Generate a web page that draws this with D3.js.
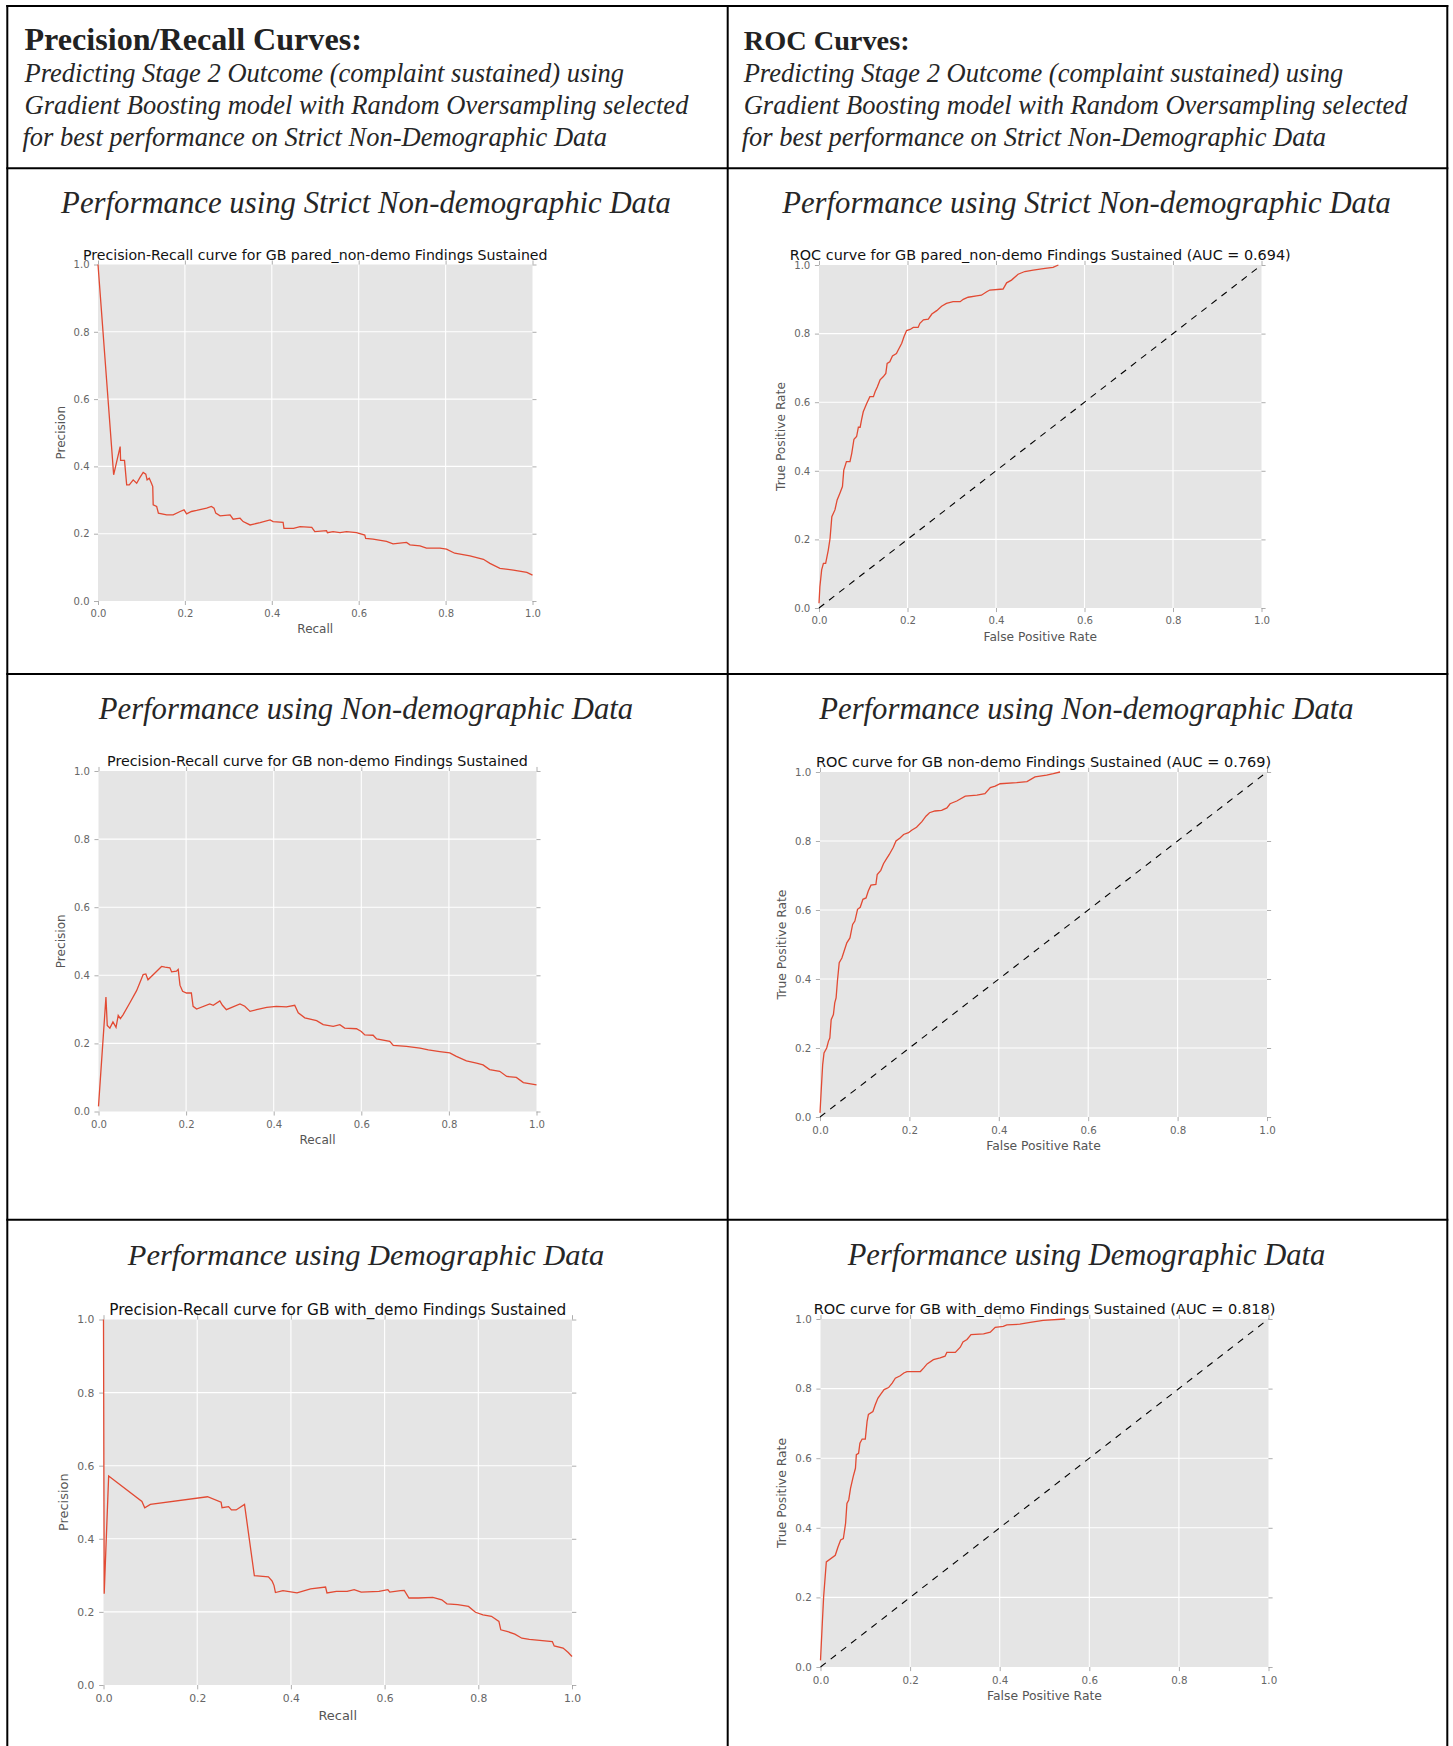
<!DOCTYPE html>
<html>
<head>
<meta charset="utf-8">
<script src="https://cdn.jsdelivr.net/npm/d3@7"></script>
<style>
  body { margin: 0; background: #fff; }
</style>
</head>
<body>
<svg id="chart"></svg>
<script>
const tickValues = [0, 0.2, 0.4, 0.6, 0.8, 1.0];
const diagonal = [0, 1];

// Precision/Recall, strict non-demographic
const prStrictRecall = [0, 0.036, 0.051, 0.052, 0.061, 0.066, 0.072, 0.081, 0.089, 0.097, 0.104, 0.110, 0.113, 0.118, 0.123, 0.126, 0.127, 0.135, 0.139, 0.158, 0.173, 0.189, 0.198, 0.204, 0.215, 0.227, 0.25, 0.261, 0.267, 0.271, 0.281, 0.304, 0.311, 0.327, 0.334, 0.35, 0.373, 0.396, 0.403, 0.426, 0.428, 0.45, 0.465, 0.492, 0.499, 0.526, 0.528, 0.541, 0.557, 0.572, 0.595, 0.614, 0.616, 0.633, 0.664, 0.679, 0.710, 0.718, 0.741, 0.756, 0.787, 0.802, 0.821, 0.856, 0.887, 0.902, 0.925, 0.956, 0.987, 1.0];
const prStrictPrecision = [1.0, 0.375, 0.459, 0.418, 0.418, 0.345, 0.345, 0.36, 0.35, 0.368, 0.382, 0.377, 0.36, 0.365, 0.35, 0.34, 0.286, 0.281, 0.261, 0.256, 0.256, 0.266, 0.271, 0.259, 0.266, 0.269, 0.276, 0.281, 0.276, 0.261, 0.253, 0.256, 0.243, 0.246, 0.236, 0.226, 0.233, 0.241, 0.236, 0.234, 0.216, 0.216, 0.221, 0.219, 0.206, 0.209, 0.203, 0.206, 0.203, 0.206, 0.203, 0.196, 0.186, 0.184, 0.177, 0.170, 0.174, 0.167, 0.164, 0.157, 0.157, 0.154, 0.142, 0.134, 0.124, 0.112, 0.097, 0.092, 0.085, 0.077];

// ROC, strict non-demographic
const rocStrictFpr = [0, 0.002, 0.006, 0.01, 0.015, 0.021, 0.025, 0.029, 0.036, 0.041, 0.047, 0.053, 0.056, 0.062, 0.07, 0.074, 0.079, 0.085, 0.089, 0.093, 0.096, 0.1, 0.108, 0.115, 0.123, 0.127, 0.132, 0.138, 0.145, 0.151, 0.154, 0.16, 0.166, 0.175, 0.179, 0.187, 0.192, 0.198, 0.206, 0.213, 0.224, 0.228, 0.236, 0.247, 0.255, 0.266, 0.277, 0.288, 0.303, 0.319, 0.326, 0.337, 0.356, 0.367, 0.379, 0.386, 0.416, 0.424, 0.435, 0.45, 0.465, 0.484, 0.511, 0.529, 0.541];
const rocStrictTpr = [0.014, 0.062, 0.111, 0.13, 0.13, 0.169, 0.203, 0.266, 0.286, 0.315, 0.334, 0.354, 0.402, 0.427, 0.427, 0.451, 0.492, 0.5, 0.527, 0.527, 0.548, 0.572, 0.597, 0.616, 0.616, 0.631, 0.645, 0.665, 0.674, 0.684, 0.713, 0.718, 0.735, 0.742, 0.752, 0.772, 0.791, 0.809, 0.812, 0.818, 0.818, 0.83, 0.84, 0.842, 0.857, 0.867, 0.88, 0.888, 0.893, 0.893, 0.9, 0.906, 0.91, 0.912, 0.922, 0.927, 0.93, 0.948, 0.956, 0.973, 0.981, 0.985, 0.99, 0.993, 1.0];

// Precision/Recall, non-demographic
const prNonDemoRecall = [0, 0.017, 0.02, 0.026, 0.033, 0.04, 0.045, 0.05, 0.056, 0.072, 0.087, 0.102, 0.108, 0.113, 0.144, 0.152, 0.163, 0.167, 0.178, 0.182, 0.186, 0.192, 0.201, 0.212, 0.216, 0.224, 0.254, 0.262, 0.277, 0.283, 0.292, 0.323, 0.334, 0.346, 0.361, 0.384, 0.406, 0.429, 0.448, 0.456, 0.471, 0.498, 0.513, 0.536, 0.551, 0.562, 0.589, 0.6, 0.608, 0.627, 0.635, 0.665, 0.673, 0.703, 0.734, 0.753, 0.779, 0.802, 0.817, 0.84, 0.863, 0.878, 0.893, 0.916, 0.932, 0.954, 0.97, 1.0];
const prNonDemoPrecision = [0.015, 0.336, 0.253, 0.245, 0.263, 0.247, 0.282, 0.273, 0.284, 0.32, 0.355, 0.402, 0.404, 0.387, 0.426, 0.424, 0.422, 0.41, 0.412, 0.417, 0.371, 0.353, 0.348, 0.348, 0.309, 0.301, 0.316, 0.312, 0.325, 0.312, 0.299, 0.316, 0.309, 0.294, 0.299, 0.306, 0.309, 0.307, 0.312, 0.29, 0.275, 0.267, 0.255, 0.25, 0.255, 0.245, 0.243, 0.235, 0.225, 0.224, 0.213, 0.206, 0.194, 0.191, 0.186, 0.181, 0.176, 0.172, 0.162, 0.149, 0.142, 0.137, 0.123, 0.118, 0.103, 0.1, 0.085, 0.078];

// ROC, non-demographic
const rocNonDemoFpr = [0, 0.003, 0.006, 0.009, 0.015, 0.019, 0.022, 0.025, 0.03, 0.033, 0.036, 0.039, 0.043, 0.049, 0.054, 0.06, 0.067, 0.073, 0.078, 0.084, 0.09, 0.096, 0.103, 0.108, 0.114, 0.125, 0.128, 0.136, 0.142, 0.149, 0.155, 0.164, 0.17, 0.179, 0.187, 0.198, 0.205, 0.216, 0.228, 0.237, 0.245, 0.257, 0.272, 0.284, 0.291, 0.306, 0.325, 0.351, 0.369, 0.381, 0.392, 0.403, 0.44, 0.463, 0.481, 0.507, 0.522, 0.537];
const rocNonDemoTpr = [0.012, 0.084, 0.152, 0.186, 0.2, 0.22, 0.229, 0.282, 0.297, 0.331, 0.345, 0.394, 0.447, 0.461, 0.481, 0.505, 0.519, 0.558, 0.568, 0.602, 0.608, 0.631, 0.635, 0.655, 0.672, 0.674, 0.703, 0.715, 0.734, 0.749, 0.761, 0.782, 0.8, 0.809, 0.819, 0.824, 0.831, 0.84, 0.856, 0.872, 0.882, 0.887, 0.889, 0.896, 0.908, 0.916, 0.93, 0.933, 0.937, 0.955, 0.959, 0.966, 0.969, 0.972, 0.986, 0.991, 0.995, 1.0];

// Precision/Recall, demographic
const prDemoRecall = [0, 0.0015, 0.011, 0.082, 0.088, 0.1, 0.222, 0.251, 0.253, 0.267, 0.273, 0.283, 0.301, 0.322, 0.352, 0.36, 0.364, 0.367, 0.383, 0.413, 0.442, 0.474, 0.477, 0.497, 0.52, 0.535, 0.55, 0.588, 0.607, 0.611, 0.634, 0.642, 0.652, 0.672, 0.703, 0.722, 0.733, 0.756, 0.779, 0.794, 0.81, 0.828, 0.844, 0.848, 0.863, 0.878, 0.893, 0.909, 0.931, 0.958, 0.962, 0.981, 0.992, 1.0];
const prDemoPrecision = [1.0, 0.25, 0.572, 0.502, 0.485, 0.494, 0.515, 0.5, 0.485, 0.488, 0.479, 0.479, 0.494, 0.299, 0.296, 0.284, 0.272, 0.253, 0.258, 0.252, 0.263, 0.268, 0.252, 0.256, 0.256, 0.261, 0.254, 0.256, 0.261, 0.254, 0.258, 0.259, 0.238, 0.238, 0.24, 0.233, 0.222, 0.22, 0.215, 0.199, 0.192, 0.188, 0.174, 0.151, 0.146, 0.139, 0.128, 0.125, 0.122, 0.119, 0.107, 0.101, 0.089, 0.078];

// ROC, demographic
const rocDemoFpr = [0, 0.004, 0.007, 0.013, 0.033, 0.039, 0.045, 0.051, 0.056, 0.059, 0.063, 0.067, 0.073, 0.078, 0.08, 0.085, 0.088, 0.093, 0.1, 0.104, 0.107, 0.117, 0.122, 0.128, 0.135, 0.142, 0.152, 0.16, 0.167, 0.178, 0.186, 0.193, 0.223, 0.23, 0.238, 0.252, 0.267, 0.278, 0.282, 0.301, 0.312, 0.318, 0.327, 0.336, 0.364, 0.379, 0.39, 0.408, 0.416, 0.445, 0.468, 0.497, 0.546];
const rocDemoTpr = [0.019, 0.125, 0.202, 0.302, 0.321, 0.345, 0.365, 0.369, 0.413, 0.47, 0.48, 0.513, 0.547, 0.571, 0.61, 0.614, 0.643, 0.655, 0.655, 0.706, 0.726, 0.734, 0.753, 0.772, 0.785, 0.797, 0.803, 0.816, 0.83, 0.837, 0.845, 0.849, 0.849, 0.859, 0.871, 0.883, 0.888, 0.893, 0.904, 0.904, 0.919, 0.934, 0.941, 0.955, 0.957, 0.962, 0.976, 0.979, 0.983, 0.985, 0.99, 0.996, 1.0];

const headerTitles = ["Precision/Recall Curves:", "ROC Curves:"];
const headerLines = [
    "Predicting Stage 2 Outcome (complaint sustained) using",
    "Gradient Boosting model with Random Oversampling selected",
    "for best performance on Strict Non-Demographic Data"
];
const rowTitles = [
    "Performance using Strict Non-demographic Data",
    "Performance using Non-demographic Data",
    "Performance using Demographic Data"
];

const width = 1453, height = 1746;
const colX = [7.3, 727.7, 1447.3];
const rowY = [6, 168.3, 674, 1219.7];
const lineColor = "#E24A33";
const serif = "'Liberation Serif', serif";
const sans = "'DejaVu Sans', sans-serif";

// layout of each plot: [left, top, right, bottom], target title width
const panels = [
    {xs: prStrictRecall, ys: prStrictPrecision, box: [98, 264.5, 532.5, 601], tw: 465,
     title: "Precision-Recall curve for GB pared_non-demo Findings Sustained", xl: "Recall", yl: "Precision"},
    {xs: rocStrictFpr, ys: rocStrictTpr, box: [819, 265, 1261.5, 608], tw: 501, roc: true,
     title: "ROC curve for GB pared_non-demo Findings Sustained (AUC = 0.694)", xl: "False Positive Rate", yl: "True Positive Rate"},
    {xs: prNonDemoRecall, ys: prNonDemoPrecision, box: [98.5, 771, 536.5, 1111.5], tw: 421,
     title: "Precision-Recall curve for GB non-demo Findings Sustained", xl: "Recall", yl: "Precision"},
    {xs: rocNonDemoFpr, ys: rocNonDemoTpr, box: [820, 772, 1267, 1117], tw: 455, roc: true,
     title: "ROC curve for GB non-demo Findings Sustained (AUC = 0.769)", xl: "False Positive Rate", yl: "True Positive Rate"},
    {xs: prDemoRecall, ys: prDemoPrecision, box: [103.5, 1319.5, 572, 1685], tw: 457,
     title: "Precision-Recall curve for GB with_demo Findings Sustained", xl: "Recall", yl: "Precision"},
    {xs: rocDemoFpr, ys: rocDemoTpr, box: [820.5, 1319, 1268.5, 1667], tw: 462, roc: true,
     title: "ROC curve for GB with_demo Findings Sustained (AUC = 0.818)", xl: "False Positive Rate", yl: "True Positive Rate"}
];

const svg = d3.select("#chart").attr("width", width).attr("height", height);
svg.append("rect").attr("width", width).attr("height", height).attr("fill", "#fff");

function fitText(sel, target) {
    const w = sel.node().getComputedTextLength();
    const fs = parseFloat(sel.attr("font-size"));
    sel.attr("font-size", fs * target / w);
    return fs * target / w;
}

// table header
headerTitles.forEach((t, i) => {
    const x0 = i === 0 ? 24.5 : 743.7;
    const tt = svg.append("text").attr("x", x0).attr("y", 50)
        .attr("font-family", serif).attr("font-weight", "bold").attr("font-size", 27)
        .attr("fill", "#222").text(t);
    fitText(tt, i === 0 ? 337.5 : 166);

    const probe = svg.append("text").attr("font-family", serif).attr("font-style", "italic")
        .attr("font-size", 26).text(headerLines[1]);
    const fs = fitText(probe, 664);
    probe.remove();
    headerLines.forEach((l, j) => {
        svg.append("text").attr("x", x0 - (j === 2 ? 2 : 0)).attr("y", 82 + j * 32)
            .attr("font-family", serif).attr("font-style", "italic").attr("font-size", fs)
            .attr("fill", "#262626").text(l);
    });
});

// row headings
const rowHeadY = [213, 719, 1265];
const rowHeadW = [[610, 609], [534.5, 534.5], [476.6, 478]];
rowTitles.forEach((t, r) => {
    [366, 1086.5].forEach((cx, c) => {
        const tt = svg.append("text").attr("x", cx).attr("y", rowHeadY[r])
            .attr("text-anchor", "middle").attr("font-family", serif).attr("font-style", "italic")
            .attr("font-size", 31).attr("fill", "#262626").text(t);
        fitText(tt, rowHeadW[r][c]);
    });
});

// each plot
panels.forEach(p => {
    const [x0, y0, x1, y1] = p.box;
    const k = (x1 - x0) / 434.5;
    const x = d3.scaleLinear().domain([0, 1]).range([x0, x1]);
    const y = d3.scaleLinear().domain([0, 1]).range([y1, y0]);
    const g = svg.append("g");

    g.append("rect").attr("x", x0).attr("y", y0)
        .attr("width", x1 - x0).attr("height", y1 - y0).attr("fill", "#E5E5E5");

    const inner = tickValues.slice(1, -1);
    g.append("g").selectAll("line").data(inner).join("line")
        .attr("x1", d => x(d)).attr("x2", d => x(d)).attr("y1", y0).attr("y2", y1)
        .attr("stroke", "#fff").attr("stroke-width", 1.1);
    g.append("g").selectAll("line").data(inner).join("line")
        .attr("y1", d => y(d)).attr("y2", d => y(d)).attr("x1", x0).attr("x2", x1)
        .attr("stroke", "#fff").attr("stroke-width", 1.1);

    const fmt = d3.format(".1f");
    const styleAxis = a => {
        a.select(".domain").remove();
        a.selectAll(".tick line").attr("stroke", "#999").attr("stroke-width", 0.8);
        a.selectAll(".tick text").attr("fill", "#666").attr("font-family", sans)
            .attr("font-size", 10 * k);
    };
    g.append("g").attr("transform", `translate(0,${y1})`)
        .call(d3.axisBottom(x).tickValues(tickValues).tickFormat(fmt)
            .tickSizeInner(4 * k).tickSizeOuter(0).tickPadding(5 * k))
        .call(styleAxis);
    g.append("g").attr("transform", `translate(0,${y0})`)
        .call(d3.axisTop(x).tickValues(tickValues).tickFormat("")
            .tickSizeInner(4 * k).tickSizeOuter(0))
        .call(styleAxis);
    g.append("g").attr("transform", `translate(${x0},0)`)
        .call(d3.axisLeft(y).tickValues(tickValues).tickFormat(fmt)
            .tickSizeInner(4 * k).tickSizeOuter(0).tickPadding(4.5 * k))
        .call(styleAxis);
    g.append("g").attr("transform", `translate(${x1},0)`)
        .call(d3.axisRight(y).tickValues(tickValues).tickFormat("")
            .tickSizeInner(4 * k).tickSizeOuter(0))
        .call(styleAxis);

    if (p.roc) {
        g.append("line")
            .attr("x1", x(diagonal[0])).attr("y1", y(diagonal[0]))
            .attr("x2", x(diagonal[1])).attr("y2", y(diagonal[1]))
            .attr("stroke", "#000").attr("stroke-width", 1.1)
            .attr("stroke-dasharray", `${6.5 * k},${6 * k}`);
    }

    const line = d3.line().x(d => x(d[0])).y(d => y(d[1]));
    g.append("path").datum(d3.zip(p.xs, p.ys))
        .attr("d", line).attr("fill", "none")
        .attr("stroke", lineColor).attr("stroke-width", 1.3);

    const tt = g.append("text").attr("x", (x0 + x1) / 2).attr("y", y0 - 4.5 * k)
        .attr("text-anchor", "middle").attr("font-family", sans).attr("font-size", 14 * k)
        .attr("fill", "#111").text(p.title);
    fitText(tt, p.tw);

    g.append("text").attr("x", (x0 + x1) / 2).attr("y", y1 + 28 * k)
        .attr("dominant-baseline", "central").attr("text-anchor", "middle")
        .attr("font-family", sans).attr("font-size", 12 * k).attr("fill", "#555")
        .text(p.xl);
    g.append("text")
        .attr("transform", `translate(${x0 - 37 * k},${(y0 + y1) / 2}) rotate(-90)`)
        .attr("dominant-baseline", "central").attr("text-anchor", "middle")
        .attr("font-family", sans).attr("font-size", 12 * k).attr("fill", "#555")
        .text(p.yl);
});

// table rules
const rules = svg.append("g").attr("stroke", "#000").attr("stroke-width", 2);
colX.forEach(cx => {
    rules.append("line").attr("x1", cx).attr("x2", cx).attr("y1", rowY[0] - 1).attr("y2", height);
});
rowY.forEach(ry => {
    rules.append("line").attr("x1", colX[0] - 1).attr("x2", colX[2] + 1).attr("y1", ry).attr("y2", ry);
});
</script>
</body>
</html>
